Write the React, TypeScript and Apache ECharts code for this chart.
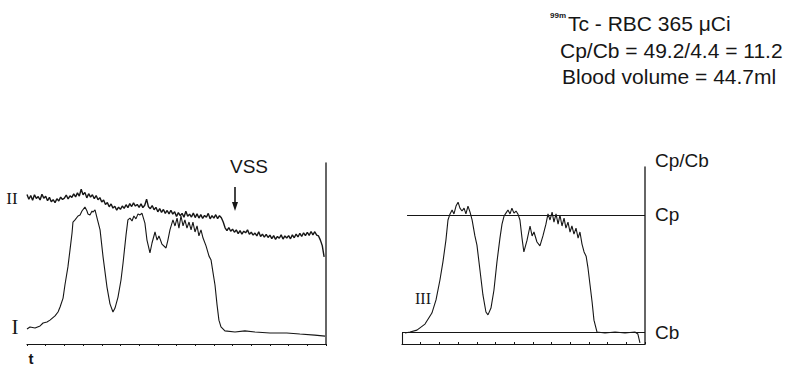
import React, { useEffect, useRef } from "react";
import * as echarts from "echarts";

// Time in seconds (one axis tick = 10 s), activity in counts
const leftTimeMax = 160;
const rightTimeMax = 130;
const leftCountMax = 69;
const rightCountMax = 67.5;
const cpLevel = 49.2;
const cbLevel = 4.4;

// Trace I (left panel)
const traceI: [number, number][] = [
  [0, 5.7], [1.6, 6.5], [4.3, 6.1], [7, 6.9], [8.6, 8.0], [10.7, 8.4], [12.3, 9.1], [15, 10.7],
  [16.6, 12.2], [17.7, 14.1], [19.3, 17.5], [20.3, 22.5], [21.9, 29.4], [23, 35.8], [24.1, 42.3],
  [24.6, 46.5], [25.7, 47.3], [27.3, 48.8], [28.4, 49.2], [29.4, 50.7], [31, 52.2], [32.1, 50.7],
  [32.6, 49.6], [33.7, 49.2], [34.8, 50.7], [35.3, 50.3], [36.4, 51.1], [37.5, 48.0], [39.1, 43.5],
  [40.7, 33.2], [42.8, 21.7], [44.4, 15.3], [46, 12.2], [47.1, 13.7], [48.7, 17.9], [50.3, 24.4],
  [51.4, 30.9], [53, 41.6], [54, 47.3], [55.1, 48.0], [56.2, 46.9], [57.2, 48.8], [58.3, 47.7],
  [59.4, 49.6], [60.5, 49.2], [61.5, 49.9], [63.1, 46.1], [64.2, 39.6], [65.8, 34.7], [66.9, 38.5],
  [68.5, 42.7], [69.6, 39.6], [70.6, 41.2], [72.2, 38.1], [74.4, 36.6], [75.4, 39.6], [76.5, 43.5],
  [78.1, 47.3], [79.2, 45.0], [80.3, 48.0], [81.3, 44.2], [82.4, 48.8], [83.5, 45.0], [84.5, 47.3],
  [85.6, 44.2], [86.7, 46.5], [87.8, 43.5], [88.8, 46.5], [89.9, 42.7], [91, 45.0], [92, 41.2],
  [93.1, 43.5], [94.2, 40.4], [95.8, 37.4], [97.4, 33.5], [98.5, 32.0], [99.5, 27.4], [100.6, 22.5],
  [101.7, 14.9], [102.7, 9.1], [103.8, 6.5], [105.9, 5.0], [111.3, 4.6], [116.6, 5.0], [122, 4.6],
  [130, 4.2], [139, 4.2], [146, 3.8], [154, 3.4], [159.5, 3.0],
];

// Trace II (left panel), sampled every second from t = 0
const traceIIStep = 1;
const traceIICounts = [
  57.0, 55.2, 56.6, 54.8, 56.9, 55.5, 56.2, 54.9, 57.1, 55.6,
  56.3, 54.6, 55.9, 54.2, 55.0, 53.9, 55.4, 54.5, 56.0, 55.1,
  55.6, 56.8, 55.3, 56.5, 55.9, 57.2, 56.1, 57.6, 56.4, 59.0,
  56.9, 57.8, 55.7, 57.3, 56.0, 56.9, 55.4, 56.6, 55.0, 55.8,
  54.1, 54.9, 53.2, 53.9, 52.3, 53.4, 51.8, 52.5, 51.0, 52.2,
  51.3, 52.6, 51.7, 53.1, 52.0, 53.5, 52.4, 53.8, 52.6, 53.2,
  52.1, 53.4, 52.0, 52.9, 55.2, 52.3, 51.6, 52.8, 51.2, 52.1,
  50.4, 51.6, 50.2, 51.3, 49.8, 50.9, 49.6, 51.0, 49.5, 50.4,
  48.6, 50.1, 48.9, 49.8, 48.3, 50.6, 48.7, 49.5, 48.4, 49.9,
  48.2, 49.6, 48.0, 49.3, 47.9, 49.0, 48.3, 49.8, 47.7, 48.9,
  48.0, 49.3, 47.8, 48.9, 48.1, 46.5, 44.3, 43.2, 44.4, 43.0,
  43.8, 42.6, 43.5, 42.1, 43.2, 41.9, 43.0, 42.4, 43.5, 41.8,
  42.6, 41.5, 42.3, 41.2, 42.8, 41.0, 41.9, 40.7, 41.8, 40.6,
  41.5, 40.2, 41.3, 39.9, 41.0, 40.3, 41.6, 40.0, 41.2, 40.4,
  41.3, 40.1, 41.6, 40.5, 41.9, 40.8, 42.2, 41.0, 42.4, 41.3,
  42.6, 41.4, 42.9, 41.6, 42.8, 41.5, 41.2, 39.6, 37.5, 33.2,
];

// Trace III (right panel)
const traceIII: [number, number][] = [
  [1.6, 4.2], [4.3, 4.6], [8, 5.3], [12.3, 7.6], [16, 11.8], [18.2, 16.8], [20.3, 24.4], [21.9, 31.3],
  [23.5, 39.6], [24.6, 47.3], [25.7, 49.6], [26.8, 51.1], [27.8, 49.6], [28.9, 52.6], [30, 54.1],
  [31, 51.8], [32.1, 50.7], [33.2, 51.8], [34.2, 49.6], [35.3, 52.6], [36.4, 50.3], [37.5, 47.3],
  [39, 41.2], [40.1, 37.7], [41.7, 28.2], [43.3, 18.7], [44.9, 12.2], [46, 11.1], [47.6, 13.7],
  [49.2, 20.6], [50.8, 31.3], [52.4, 40.4], [53.5, 45.7], [54.6, 48.8], [55.6, 49.9], [56.7, 51.1],
  [57.8, 49.6], [58.8, 51.8], [59.9, 49.9], [61, 50.7], [62, 49.6], [63.1, 47.3], [64.2, 40.4],
  [65.2, 35.1], [66.9, 39.6], [68.5, 45.0], [69.6, 41.2], [70.6, 42.7], [72.2, 38.9], [73.8, 37.4],
  [75.4, 41.2], [77, 45.7], [78.1, 49.6], [79.2, 47.3], [80.3, 50.3], [81.3, 46.5], [82.4, 49.6],
  [83.5, 45.7], [84.5, 49.2], [85.6, 45.0], [86.7, 48.0], [87.7, 44.2], [88.8, 46.5], [89.9, 42.7],
  [90.9, 45.0], [92, 41.9], [93.1, 44.2], [94.2, 40.4], [95.2, 42.7], [96.3, 38.1], [97.4, 35.1],
  [98.5, 33.5], [99.5, 29.0], [100.6, 22.5], [101.7, 16.0], [102.7, 9.1], [104.3, 4.6], [108.6, 4.2],
  [114, 4.6], [119.3, 4.2], [124.6, 4.6], [126.2, 3.8], [127.3, 0.4],
];

const infoLines = ["Tc - RBC 365 \u03bcCi", "Cp/Cb = 49.2/4.4 = 11.2", "Blood volume = 44.7ml"];
const isotope = "99m";

const INK = "#161616";
const SANS = "'Liberation Sans', Arial, sans-serif";
const SERIF = "'Liberation Serif', 'DejaVu Serif', serif";

export default function App() {
  const ref = useRef<HTMLDivElement>(null);

  useEffect(() => {
    if (!ref.current) return;
    const chart = echarts.init(ref.current, undefined, { renderer: "svg" });
    const traceII = traceIICounts.map((v, i) => [i * traceIIStep, v]);

    const lineStyle = (w: number) => ({ color: INK, width: w });

    chart.setOption({
      animation: false,
      backgroundColor: "#ffffff",
      grid: [
        { left: 27, top: 163, width: 299, height: 181 },
        { left: 402, top: 167, width: 243, height: 177 },
      ],
      xAxis: [
        {
          gridIndex: 0, type: "value", min: 0, max: leftTimeMax, interval: 10,
          axisLine: { show: true, onZero: false, lineStyle: { color: INK, width: 1.2 } },
          axisTick: { show: true, length: 2, lineStyle: { color: INK } },
          axisLabel: { show: false }, splitLine: { show: false },
        },
        {
          gridIndex: 1, type: "value", min: 0, max: rightTimeMax, interval: 10,
          axisLine: { show: true, onZero: false, lineStyle: { color: INK, width: 1.2 } },
          axisTick: { show: true, length: 2, inside: true, lineStyle: { color: INK } },
          axisLabel: { show: false }, splitLine: { show: false },
        },
      ],
      yAxis: [
        {
          gridIndex: 0, type: "value", min: 0, max: leftCountMax, position: "right",
          axisLine: { show: true, onZero: false, lineStyle: { color: "#333", width: 1.5 } },
          axisTick: { show: false }, axisLabel: { show: false }, splitLine: { show: false },
        },
        {
          gridIndex: 1, type: "value", min: 0, max: rightCountMax, position: "right",
          axisLine: { show: true, onZero: false, lineStyle: { color: "#333", width: 1.5 } },
          axisTick: { show: false },
          axisLabel: {
            show: true,
            customValues: [cbLevel, cpLevel],
            formatter: (v: number) => (Math.abs(v - cpLevel) < 0.01 ? "Cp" : "Cb"),
            color: INK, fontSize: 19, fontFamily: SANS, margin: 10,
          },
          splitLine: { show: false },
        },
      ],
      series: [
        {
          name: "I", type: "line", xAxisIndex: 0, yAxisIndex: 0, data: traceI,
          showSymbol: false, symbol: "none", lineStyle: lineStyle(1.1), silent: true,
        },
        {
          name: "II", type: "line", xAxisIndex: 0, yAxisIndex: 0, data: traceII,
          showSymbol: false, symbol: "none", lineStyle: lineStyle(1.4), silent: true,
        },
        {
          name: "III", type: "line", xAxisIndex: 1, yAxisIndex: 1, data: traceIII,
          showSymbol: false, symbol: "none", lineStyle: lineStyle(1.1), silent: true,
          markLine: {
            silent: true, symbol: "none", label: { show: false },
            lineStyle: { color: INK, width: 1.1, type: "solid" },
            data: [
              [{ coord: [2.7, cpLevel] }, { coord: [rightTimeMax, cpLevel] }],
              [{ coord: [0, cbLevel] }, { coord: [rightTimeMax, cbLevel] }],
              [{ coord: [0, 0] }, { coord: [0, cbLevel] }],
            ],
          },
        },
      ],
      graphic: [
        { type: "text", x: 550, y: 15, style: { text: isotope, fill: INK, fontSize: 8, fontWeight: "bold", fontFamily: SANS, align: "left", verticalAlign: "middle" } },
        { type: "text", x: 568, y: 23, style: { text: infoLines[0], fill: INK, fontSize: 21, fontFamily: SANS, align: "left", verticalAlign: "middle" } },
        { type: "text", x: 560, y: 50, style: { text: infoLines[1], fill: INK, fontSize: 21, fontFamily: SANS, align: "left", verticalAlign: "middle" } },
        { type: "text", x: 562, y: 76, style: { text: infoLines[2], fill: INK, fontSize: 21, fontFamily: SANS, align: "left", verticalAlign: "middle" } },
        { type: "text", x: 249, y: 166, style: { text: "VSS", fill: INK, fontSize: 19, fontFamily: SANS, align: "center", verticalAlign: "middle" } },
        { type: "line", shape: { x1: 235, y1: 187, x2: 235, y2: 204 }, style: { stroke: INK, lineWidth: 1.6 } },
        { type: "polygon", shape: { points: [[232, 202], [238, 202], [235, 211]] }, style: { fill: INK } },
        { type: "text", x: 12, y: 198, style: { text: "II", fill: INK, fontSize: 17, fontFamily: SERIF, align: "center", verticalAlign: "middle" } },
        { type: "text", x: 15, y: 327, style: { text: "I", fill: INK, fontSize: 21, fontFamily: SERIF, align: "center", verticalAlign: "middle" } },
        { type: "text", x: 423, y: 298, style: { text: "III", fill: INK, fontSize: 16, fontFamily: SERIF, align: "center", verticalAlign: "middle" } },
        { type: "text", x: 31, y: 358, style: { text: "t", fill: INK, fontSize: 15, fontWeight: "bold", fontFamily: SANS, align: "center", verticalAlign: "middle" } },
        { type: "text", x: 655, y: 160, style: { text: "Cp/Cb", fill: INK, fontSize: 19, fontFamily: SANS, align: "left", verticalAlign: "middle" } },
      ],
    });
    return () => chart.dispose();
  }, []);

  return (
    <div
      ref={ref}
      style={{ position: "fixed", left: 0, top: 0, width: 787, height: 366, background: "#fff" }}
    />
  );
}
